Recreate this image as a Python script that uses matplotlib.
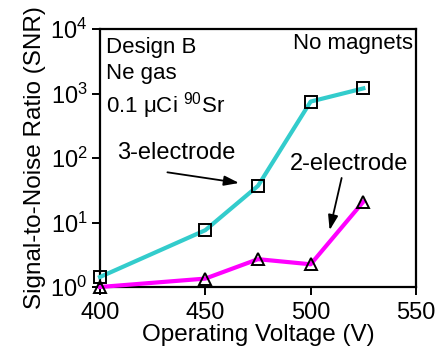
import numpy as np
import matplotlib.pyplot as plt

plt.rcParams['font.family'] = ['Liberation Sans', 'DejaVu Sans']
plt.rcParams['mathtext.fontset'] = 'custom'
plt.rcParams['mathtext.rm'] = 'Liberation Sans'
plt.rcParams['mathtext.it'] = 'Liberation Sans:italic'
plt.rcParams['mathtext.bf'] = 'Liberation Sans:bold'

# data
voltage = [400, 450, 475, 500, 525]
snr_3e = [1.43, 7.6, 37, 750, 1200]
snr_2e = [1.0, 1.35, 2.7, 2.25, 21]

fig = plt.figure(figsize=(4.39, 3.49), dpi=100)
ax = fig.add_axes([100/439, 1 - 287/349, 316/439, 258/349])

ax.plot(voltage, snr_3e, color='#33cccc', lw=3, marker='s', ms=8.5,
        mfc='none', mec='black', mew=1.4, zorder=3, clip_on=False)
ax.plot(voltage, snr_2e, color='#ff00ff', lw=3, marker='^', ms=9,
        mfc='none', mec='black', mew=1.4, zorder=3, clip_on=False)

ax.set_yscale('log')
ax.set_xlim(400, 550)
ax.set_ylim(1, 1e4)
ax.set_xticks([400, 450, 500, 550])
ax.set_yticks([1, 10, 100, 1000, 10000])
ax.minorticks_off()
ax.tick_params(direction='out', length=6, width=1.4, labelsize=17, pad=3)
ax.tick_params(axis='x', pad=5)
for s in ax.spines.values():
    s.set_linewidth(1.6)

ax.set_xlabel('Operating Voltage (V)', fontsize=17.5, labelpad=0)
ax.set_ylabel('Signal-to-Noise Ratio (SNR)', fontsize=17.5, labelpad=3)

# text labels
ax.text(0.02, 0.97, 'Design B', transform=ax.transAxes,
        ha='left', va='top', fontsize=16)
ax.text(0.02, 0.87, 'Ne gas', transform=ax.transAxes,
        ha='left', va='top', fontsize=16)
ax.text(0.02, 0.765, '0.1 μCi $^{90}$Sr', transform=ax.transAxes,
        ha='left', va='top', fontsize=16)
ax.text(0.99, 0.985, 'No magnets', transform=ax.transAxes,
        ha='right', va='top', fontsize=16)

arrow = dict(arrowstyle='-|>,head_length=0.9,head_width=0.3', color='black',
             lw=1.3, shrinkA=0, shrinkB=0)
ax.text(436, 120, '3-electrode', ha='center', va='center', fontsize=17)
ax.annotate('', xy=(466, 41), xytext=(432, 60), arrowprops=arrow)
ax.text(518, 81, '2-electrode', ha='center', va='center', fontsize=17)
ax.annotate('', xy=(509, 7.6), xytext=(514.7, 49), arrowprops=arrow)

fig.savefig('out.png', dpi=100)
